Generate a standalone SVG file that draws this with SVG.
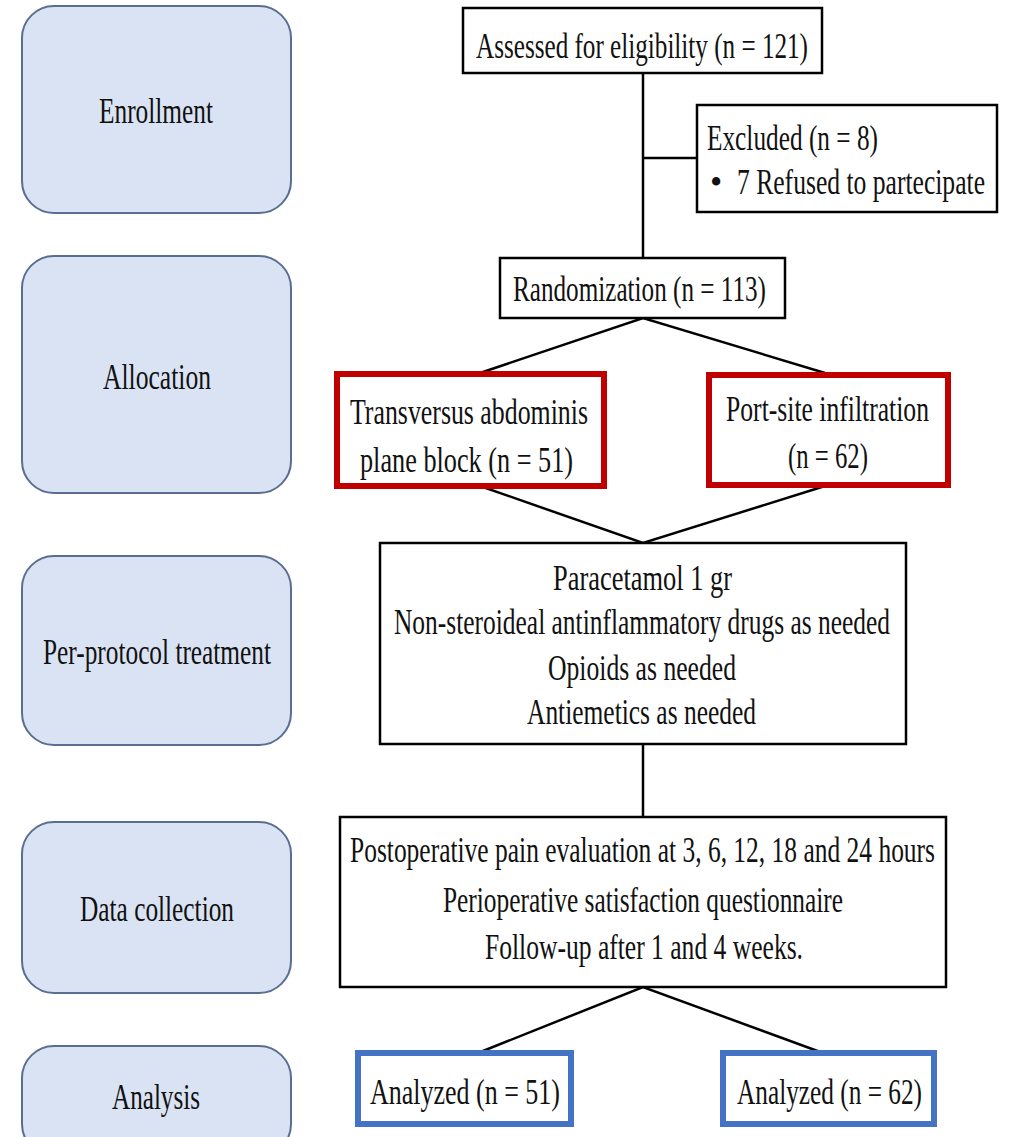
<svg xmlns="http://www.w3.org/2000/svg" width="1010" height="1137" viewBox="0 0 1010 1137">
<style>
.stage{fill:#dae3f3;stroke:#5a6e92;stroke-width:2}
.box{fill:#fff;stroke:#000;stroke-width:2.5}
.red{fill:#fff;stroke:#c00000;stroke-width:6}
.blue{fill:#fff;stroke:#4472c4;stroke-width:6}
.con{stroke:#000;stroke-width:2.5;fill:none}
text{font-family:"Liberation Serif","Times New Roman",serif;font-size:35px;fill:#111}
</style>
<rect width="1010" height="1137" fill="#fff"/>
<g id="connectors">
<line class="con" x1="643" y1="73" x2="643" y2="258"/>
<line class="con" x1="643" y1="158" x2="697" y2="158"/>
<polyline class="con" points="480,373 643,318 825,373"/>
<polyline class="con" points="480,486 643,543 825,486"/>
<line class="con" x1="643" y1="744" x2="643" y2="817"/>
<polyline class="con" points="478,1053 643,987 823,1053"/>
</g>
<g id="stage-enrollment"><rect class="stage" x="22" y="6" width="269" height="207" rx="32"/><text x="99" y="123" textLength="114" lengthAdjust="spacingAndGlyphs">Enrollment</text></g>
<g id="stage-allocation"><rect class="stage" x="22" y="256" width="269" height="237" rx="32"/><text x="103" y="389" textLength="108" lengthAdjust="spacingAndGlyphs">Allocation</text></g>
<g id="stage-treatment"><rect class="stage" x="22" y="556" width="269" height="189" rx="32"/><text x="43" y="664" textLength="228" lengthAdjust="spacingAndGlyphs">Per-protocol treatment</text></g>
<g id="stage-data"><rect class="stage" x="22" y="822" width="269" height="171" rx="32"/><text x="80" y="921" textLength="154" lengthAdjust="spacingAndGlyphs">Data collection</text></g>
<g id="stage-analysis"><rect class="stage" x="22" y="1046" width="269" height="110" rx="32"/><text x="112" y="1109" textLength="88" lengthAdjust="spacingAndGlyphs">Analysis</text></g>
<g id="assessed"><rect class="box" x="463" y="8" width="359" height="65"/><text x="476" y="58" textLength="332" lengthAdjust="spacingAndGlyphs">Assessed for eligibility (n = 121)</text></g>
<g id="excluded"><rect class="box" x="697" y="105" width="300" height="107"/><text x="707" y="150" textLength="171" lengthAdjust="spacingAndGlyphs">Excluded (n = 8)</text><text x="710" y="194">•</text><text x="737" y="194" textLength="248" lengthAdjust="spacingAndGlyphs">7 Refused to partecipate</text></g>
<g id="randomization"><rect class="box" x="500" y="258" width="285" height="60"/><text x="513" y="301" textLength="253" lengthAdjust="spacingAndGlyphs">Randomization (n = 113)</text></g>
<g id="tap"><rect class="red" x="337" y="374" width="267" height="112"/><text x="350" y="424" textLength="238" lengthAdjust="spacingAndGlyphs">Transversus abdominis</text><text x="360" y="472" textLength="213" lengthAdjust="spacingAndGlyphs">plane block (n = 51)</text></g>
<g id="port"><rect class="red" x="709" y="375" width="239" height="110"/><text x="726" y="421" textLength="203" lengthAdjust="spacingAndGlyphs">Port-site infiltration</text><text x="788" y="468" textLength="80" lengthAdjust="spacingAndGlyphs">(n = 62)</text></g>
<g id="treatment"><rect class="box" x="380" y="543" width="526" height="201"/>
<text x="553" y="590" textLength="179" lengthAdjust="spacingAndGlyphs">Paracetamol 1 gr</text>
<text x="394" y="634" textLength="496" lengthAdjust="spacingAndGlyphs">Non-steroideal antinflammatory drugs as needed</text>
<text x="548" y="680" textLength="188" lengthAdjust="spacingAndGlyphs">Opioids as needed</text>
<text x="527" y="724" textLength="229" lengthAdjust="spacingAndGlyphs">Antiemetics as needed</text></g>
<g id="datacollection"><rect class="box" x="340" y="817" width="606" height="170"/>
<text x="350" y="862" textLength="585" lengthAdjust="spacingAndGlyphs">Postoperative pain evaluation at 3, 6, 12, 18 and 24 hours</text>
<text x="443" y="912" textLength="400" lengthAdjust="spacingAndGlyphs">Perioperative satisfaction questionnaire</text>
<text x="485" y="959" textLength="318" lengthAdjust="spacingAndGlyphs">Follow-up after 1 and 4 weeks.</text></g>
<g id="analyzed-tap"><rect class="blue" x="358" y="1053" width="213" height="71"/><text x="370" y="1104" textLength="190" lengthAdjust="spacingAndGlyphs">Analyzed (n = 51)</text></g>
<g id="analyzed-port"><rect class="blue" x="723" y="1053" width="211" height="71"/><text x="737" y="1104" textLength="185" lengthAdjust="spacingAndGlyphs">Analyzed (n = 62)</text></g>
</svg>
